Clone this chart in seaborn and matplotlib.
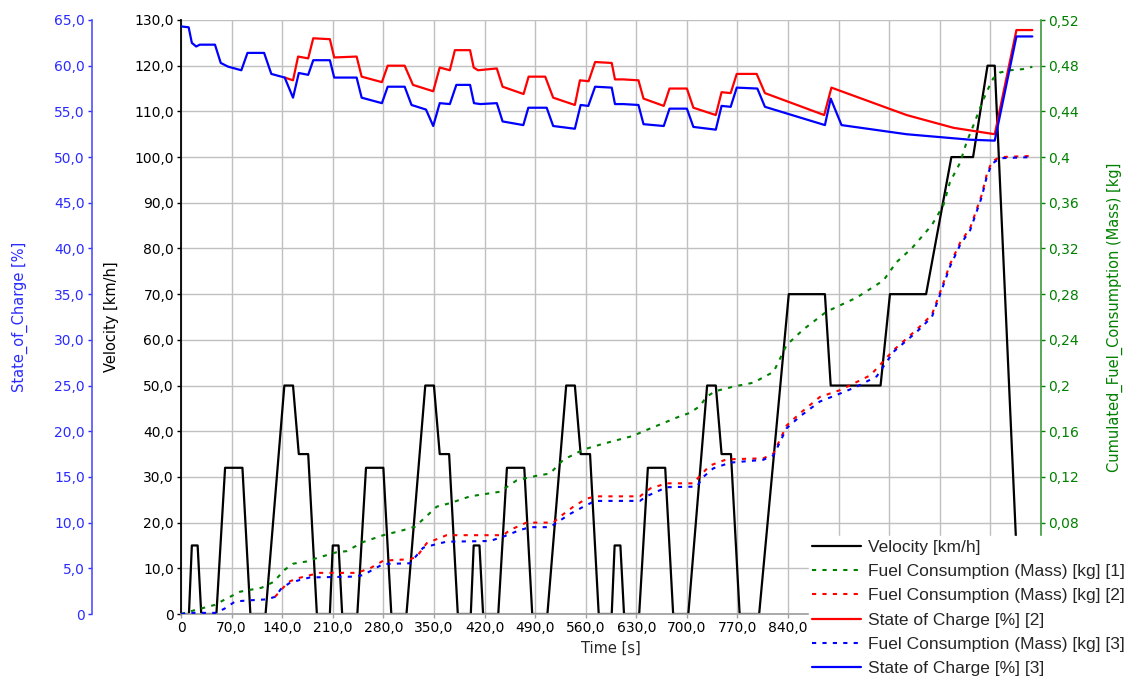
import matplotlib
matplotlib.use('Agg')
import matplotlib.pyplot as plt
from matplotlib.lines import Line2D
from matplotlib.ticker import FixedLocator, FuncFormatter
import seaborn as sns

sns.set_theme(style='white')
plt.rcParams['font.family'] = ['DejaVu Sans']

# velocity profile (NEDC) [s], [km/h]
vel_t = [0, 11, 15, 23, 28, 49, 61, 85, 96, 117, 143, 155, 163, 176, 188,
         195, 206, 210, 218, 223, 244, 256, 280, 291, 312, 338, 350, 358, 371, 383,
         390, 401, 405, 413, 418, 439, 451, 475, 486, 507, 533, 545, 553, 566, 578,
         585, 596, 600, 608, 613, 634, 646, 670, 681, 702, 728, 740, 748, 761, 773,
         780, 800, 841, 891, 899, 968, 981, 1031, 1066, 1096, 1116, 1126, 1160, 1180]
vel_v = [0, 0, 15, 15, 0, 0, 32, 32, 0, 0, 50, 50, 35, 35, 0,
         0, 0, 15, 15, 0, 0, 32, 32, 0, 0, 50, 50, 35, 35, 0,
         0, 0, 15, 15, 0, 0, 32, 32, 0, 0, 50, 50, 35, 35, 0,
         0, 0, 15, 15, 0, 0, 32, 32, 0, 0, 50, 50, 35, 35, 0,
         0, 0, 70, 70, 50, 50, 70, 70, 100, 100, 120, 120, 0, 0]

# cumulated fuel consumption [kg]
fuel1_t = [0, 17, 47, 58.5, 81.6, 111.6, 127.8, 144, 155, 174, 188, 215, 229, 252, 280,
           308, 324, 354, 372, 400, 441, 464.5, 492, 510.6, 529, 557, 584, 626, 640,
           690, 704, 718, 727, 739, 764, 792, 820, 838, 861, 893, 935, 972, 990, 1011,
           1039, 1055, 1064, 1078, 1087, 1096, 1110, 1117, 1124, 1133, 1147, 1165, 1178]
fuel1_m = [0, 0.003, 0.008, 0.012, 0.0195, 0.023, 0.028, 0.039, 0.044, 0.046, 0.049,
           0.054, 0.055, 0.063, 0.069, 0.0735, 0.0765, 0.094, 0.097, 0.103, 0.107, 0.117,
           0.121, 0.123, 0.135, 0.144, 0.149, 0.156, 0.160, 0.173, 0.176, 0.182, 0.190,
           0.195, 0.199, 0.2025, 0.212, 0.2355, 0.249, 0.2646, 0.277, 0.292, 0.308,
           0.320, 0.3405, 0.358, 0.378, 0.395, 0.413, 0.427, 0.450, 0.460, 0.469,
           0.474, 0.476, 0.477, 0.479]

fuel2_t = [130, 148.5, 160, 178.5, 192, 243, 261.5, 280, 317, 326, 340, 367.6, 446, 455,
           478, 515, 524, 543, 561, 575, 635, 649.6, 672, 709, 718, 732, 755, 806, 820,
           838, 856.5, 884, 912, 954, 986, 1018, 1039, 1050, 1064, 1078, 1092, 1108,
           1115, 1122, 1133, 1178]
fuel2_m = [0.015, 0.028, 0.031, 0.034, 0.036, 0.036, 0.040, 0.0467, 0.048, 0.050, 0.062,
           0.069, 0.069, 0.0735, 0.080, 0.080, 0.085, 0.094, 0.101, 0.103, 0.103, 0.110,
           0.1144, 0.1144, 0.121, 0.130, 0.1354, 0.1363, 0.1407, 0.165, 0.1757, 0.190,
           0.196, 0.209, 0.231, 0.249, 0.262, 0.281, 0.306, 0.325, 0.338, 0.367, 0.385,
           0.396, 0.400, 0.401]

fuel3_t = [0, 12.5, 49, 61, 75, 95.5, 118.6, 130, 139, 151, 164.7, 178.5, 238, 252, 266,
           280, 317, 335, 354, 367.6, 427.5, 446, 469, 483, 510.6, 522, 538, 557, 573,
           635, 644, 658, 672, 713.6, 722.7, 736.6, 760, 805.7, 820, 838, 856.5, 884,
           912, 935, 962.6, 986, 1018, 1039, 1050, 1064, 1078, 1092, 1108, 1115, 1122,
           1133, 1178]
fuel3_m = [0, 0.001, 0.001, 0.005, 0.011, 0.012, 0.0128, 0.015, 0.0225, 0.0274, 0.0298,
           0.032, 0.0327, 0.034, 0.039, 0.0438, 0.0444, 0.058, 0.0613, 0.0633, 0.0639,
           0.0677, 0.0735, 0.076, 0.076, 0.0808, 0.0875, 0.094, 0.099, 0.099, 0.103,
           0.107, 0.111, 0.1115, 0.120, 0.1275, 0.1325, 0.135, 0.139, 0.1626, 0.173,
           0.186, 0.193, 0.199, 0.208, 0.2296, 0.247, 0.260, 0.279, 0.304, 0.323, 0.336,
           0.365, 0.383, 0.394, 0.399, 0.400]

# state of charge [%]
soc2_t = [143.5, 155, 162, 176, 183, 206, 212, 243, 250, 278, 286, 309.5, 321, 349, 358,
          372, 379, 400, 405, 411, 437, 445, 474, 481, 504, 515, 545, 552, 564, 573,
          596, 600.5, 612, 633, 640, 668, 676, 700, 709, 740, 748, 760.6, 769, 796.6,
          808, 890, 900, 1004, 1069, 1126, 1156, 1178]
soc2_v = [58.7, 58.4, 61.0, 60.8, 63.0, 62.9, 60.9, 61.0, 58.8, 58.2, 60.0, 60.0, 57.9,
          57.2, 59.8, 59.5, 61.7, 61.7, 59.8, 59.5, 59.7, 57.7, 56.9, 58.8, 58.8, 56.5,
          55.7, 58.4, 58.3, 60.4, 60.3, 58.5, 58.5, 58.4, 56.4, 55.6, 57.5, 57.5, 55.4,
          54.6, 57.1, 57.0, 59.1, 59.1, 57.0, 54.6, 57.6, 54.6, 53.2, 52.5, 63.9, 63.9]

soc3_t = [0, 10.6, 15, 21, 26, 47, 55, 65, 83.5, 92, 115, 125, 143.5, 155, 163, 176, 183,
          206, 212, 243, 250, 278, 286, 309.5, 319, 339, 349, 358, 372, 381, 400, 405.4,
          414, 437, 445, 473.7, 480.6, 506, 515, 545, 553, 563.6, 573, 596, 600.5, 612,
          633, 640, 668, 676, 700, 709, 740, 748, 760.6, 769, 797.5, 808, 891, 899, 914,
          1004, 1092, 1126, 1156, 1178]
soc3_v = [64.3, 64.2, 62.5, 62.1, 62.3, 62.3, 60.3, 59.9, 59.5, 61.4, 61.4, 59.1, 58.7,
          56.5, 59.2, 59.0, 60.6, 60.6, 58.7, 58.7, 56.5, 55.9, 57.7, 57.7, 55.7, 55.2,
          53.4, 55.9, 55.8, 57.9, 57.9, 55.9, 55.8, 55.9, 53.9, 53.5, 55.4, 55.4, 53.4,
          53.1, 55.7, 55.6, 57.7, 57.6, 55.8, 55.8, 55.7, 53.6, 53.4, 55.3, 55.3, 53.3,
          53.0, 55.6, 55.5, 57.6, 57.5, 55.5, 53.5, 56.4, 53.5, 52.5, 51.9, 51.8, 63.2,
          63.2]

x_ticks = [0, 70, 140, 210, 280, 350, 420, 490, 560, 630, 700, 770, 840, 910, 980, 1050, 1120]
vel_ticks = [0, 10, 20, 30, 40, 50, 60, 70, 80, 90, 100, 110, 120, 130]
soc_ticks = [0, 5, 10, 15, 20, 25, 30, 35, 40, 45, 50, 55, 60, 65]
fuel_ticks = [0, 0.04, 0.08, 0.12, 0.16, 0.2, 0.24, 0.28, 0.32, 0.36, 0.4, 0.44, 0.48, 0.52]

BLUE = '#0000ff'
RED = '#ff0000'
GREEN = '#008000'
TICKBLUE = '#2b2bff'
DOT = (0, (2, 3))


def one_decimal(v, pos):
    return '0' if v == 0 else f'{v:.1f}'.replace('.', ',')


def time_fmt(v, pos):
    # labels past 840 s sit under the legend box
    return '' if v > 840 else one_decimal(v, pos)


def fuel_fmt(v, pos):
    if v < 0.07:
        return ''
    return f'{round(v, 2):g}'.replace('.', ',')


fig = plt.figure(figsize=(11.26, 6.77), dpi=100)
ax = fig.add_axes([181 / 1126, 63 / 677, 860 / 1126, 594 / 677])
ax_fuel = ax.twinx()
ax_soc = ax.twinx()

# velocity
sns.lineplot(x=vel_t, y=vel_v, ax=ax, color='black', lw=1.6, estimator=None,
             sort=False, legend=False)
ax.set_xlim(0, 1190)
ax.set_ylim(0, 130)
ax.xaxis.set_major_locator(FixedLocator(x_ticks))
ax.xaxis.set_major_formatter(FuncFormatter(time_fmt))
ax.yaxis.set_major_locator(FixedLocator(vel_ticks))
ax.yaxis.set_major_formatter(FuncFormatter(one_decimal))
ax.grid(True, color='#c0c0c0', lw=1.0)
ax.set_axisbelow(True)
ax.tick_params(axis='y', direction='out', length=3, width=1, colors='black',
               labelsize=10, pad=2, left=True)
ax.tick_params(axis='x', direction='out', length=3, width=1, color='#a0a0a0',
               labelcolor='black', labelsize=10, pad=2, bottom=True)
for s in ['top', 'right']:
    ax.spines[s].set_visible(False)
ax.spines['left'].set_color('black')
ax.spines['left'].set_linewidth(1.3)
ax.spines['bottom'].set_color('#a0a0a0')
ax.set_xlabel('Time [s]', fontsize=10.5, labelpad=4)
ax.set_ylabel('Velocity [km/h]', fontsize=10.5, color='black')
ax.yaxis.set_label_coords(-0.072, 0.5)

# fuel consumption (right axis)
sns.lineplot(x=fuel1_t, y=fuel1_m, ax=ax_fuel, color=GREEN, lw=1.5, ls=DOT,
             estimator=None, sort=False, legend=False)
sns.lineplot(x=fuel2_t, y=fuel2_m, ax=ax_fuel, color=RED, lw=1.5, ls=DOT,
             estimator=None, sort=False, legend=False)
sns.lineplot(x=fuel3_t, y=fuel3_m, ax=ax_fuel, color=BLUE, lw=1.5, ls=DOT,
             estimator=None, sort=False, legend=False)
ax_fuel.set_ylim(0, 0.52)
ax_fuel.yaxis.set_major_locator(FixedLocator(fuel_ticks))
ax_fuel.yaxis.set_major_formatter(FuncFormatter(fuel_fmt))
ax_fuel.tick_params(axis='y', direction='out', length=3, width=1, colors=GREEN,
                    labelsize=10, pad=2, right=True)
for s in ['top', 'left', 'bottom']:
    ax_fuel.spines[s].set_visible(False)
ax_fuel.spines['right'].set_color('#3a9a3a')
ax_fuel.spines['right'].set_linewidth(1.2)
ax_fuel.set_ylabel('Cumulated_Fuel_Consumption (Mass) [kg]', fontsize=10.5, color=GREEN)
ax_fuel.yaxis.set_label_coords(1.077, 0.5)

# state of charge (outer left axis)
sns.lineplot(x=soc2_t, y=soc2_v, ax=ax_soc, color=RED, lw=1.6, estimator=None,
             sort=False, legend=False)
sns.lineplot(x=soc3_t, y=soc3_v, ax=ax_soc, color=BLUE, lw=1.6, estimator=None,
             sort=False, legend=False)
ax_soc.set_ylim(0, 65)
ax_soc.spines['left'].set_position(('axes', -0.1035))
ax_soc.spines['left'].set_visible(True)
ax_soc.spines['left'].set_color('#5050ff')
ax_soc.spines['left'].set_linewidth(1.2)
for s in ['top', 'right', 'bottom']:
    ax_soc.spines[s].set_visible(False)
ax_soc.yaxis.set_ticks_position('left')
ax_soc.yaxis.set_label_position('left')
ax_soc.yaxis.set_major_locator(FixedLocator(soc_ticks))
ax_soc.yaxis.set_major_formatter(FuncFormatter(one_decimal))
ax_soc.tick_params(axis='y', direction='out', length=3, width=1, colors=TICKBLUE,
                   labelsize=10, pad=2)
ax_soc.set_ylabel('State_of_Charge [%]', fontsize=10.5, color=TICKBLUE)
ax_soc.yaxis.set_label_coords(-0.178, 0.5)

ax.set_xlim(0, 1190)

handles = [
    Line2D([], [], color='black', lw=1.6),
    Line2D([], [], color=GREEN, lw=1.5, ls=DOT),
    Line2D([], [], color=RED, lw=1.5, ls=DOT),
    Line2D([], [], color=RED, lw=1.6),
    Line2D([], [], color=BLUE, lw=1.5, ls=DOT),
    Line2D([], [], color=BLUE, lw=1.6),
]
labels = ['Velocity [km/h]', 'Fuel Consumption (Mass) [kg] [1]',
          'Fuel Consumption (Mass) [kg] [2]', 'State of Charge [%] [2]',
          'Fuel Consumption (Mass) [kg] [3]', 'State of Charge [%] [3]']
leg = fig.legend(handles, labels, loc='upper left',
                 bbox_to_anchor=(809 / 1126, 1 - 536 / 677),
                 prop={'family': 'Liberation Sans', 'size': 12.5},
                 frameon=True, facecolor='white', edgecolor='white', framealpha=1,
                 fancybox=False, borderpad=0.2, handlelength=2.8, handletextpad=0.4,
                 labelspacing=0.53, borderaxespad=0)

fig.savefig('out.png', dpi=100)
